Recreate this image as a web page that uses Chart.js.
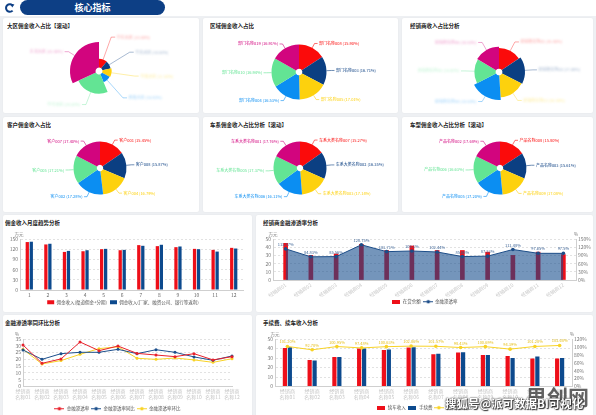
<!DOCTYPE html>
<html>
<head>
<meta charset="utf-8">
<script src="https://cdn.jsdelivr.net/npm/chart.js@4.4.0/dist/chart.umd.min.js"></script>
<style>
html, body { margin: 0; padding: 0; }
body { width: 596px; height: 415px; overflow: hidden; position: relative; background: #eef0f3;
  font-family: "Noto Sans CJK SC", "Noto Sans", sans-serif; }
.top { position: absolute; left: 0; top: 0; width: 596px; height: 16px; background: #fff; }
.pill { position: absolute; left: 20px; top: 0; width: 145px; height: 15px; border-radius: 8px;
  background: #0d3f85; color: #fff; font-size: 9px; font-weight: bold; text-align: center; line-height: 15px; }
.panel { position: absolute; background: #fff; border-radius: 2px; box-shadow: 0 0 2px rgba(0,0,0,0.05); }
.title { position: absolute; top: 4px; font-size: 11px; line-height: 12px; font-weight: bold; color: #222;
  white-space: nowrap; transform: scale(0.5); transform-origin: left top; }
canvas { position: absolute; }
.wm1 { position: absolute; left: 526px; top: 386px; font-size: 21px; line-height: 1; font-weight: bold;
  color: rgba(70,70,70,0.85); white-space: nowrap; }
.wm2 { position: absolute; left: 445px; top: 398px; font-size: 11.5px; line-height: 1; font-weight: bold; color: #fff;
  white-space: nowrap; text-shadow: 0 0 1px #333, 0 0 2px #333, 1px 1px 1px #333; }
</style>
</head>
<body>
<div class="top"></div>
<svg style="position:absolute;left:4px;top:3px" width="11" height="10" viewBox="0 0 11 10">
  <path d="M8.6 2.4 A3.8 3.8 0 1 0 8.6 7.6" fill="none" stroke="#0d3f85" stroke-width="2"/>
  <path d="M6.2 0.6 L10.4 1.6 L8.2 4.6 Z" fill="#0d3f85"/>
</svg>
<div class="pill">核心指标</div>

<div class="panel" style="left:3px;top:18px;width:196px;height:95px"><div class="title" style="left:4px">大区佣金收入占比【滚动】</div></div>
<div class="panel" style="left:203px;top:18px;width:195px;height:95px"><div class="title" style="left:7px">区域佣金收入占比</div></div>
<div class="panel" style="left:402px;top:18px;width:191px;height:95px"><div class="title" style="left:8px">经销商收入占比分析</div></div>
<div class="panel" style="left:3px;top:117px;width:196px;height:95px"><div class="title" style="left:4px">客户佣金收入占比</div></div>
<div class="panel" style="left:203px;top:117px;width:195px;height:95px"><div class="title" style="left:7px">车系佣金收入占比分析【滚动】</div></div>
<div class="panel" style="left:402px;top:117px;width:191px;height:95px"><div class="title" style="left:8px">车型佣金收入占比分析【滚动】</div></div>
<div class="panel" style="left:3px;top:215px;width:249px;height:97px"><div class="title" style="left:2px">佣金收入月度趋势分析</div></div>
<div class="panel" style="left:256px;top:215px;width:337px;height:97px"><div class="title" style="left:7px">经销商金融渗透率分析</div></div>
<div class="panel" style="left:3px;top:315px;width:249px;height:105px"><div class="title" style="left:2px">金融渗透率同环比分析</div></div>
<div class="panel" style="left:256px;top:315px;width:337px;height:105px"><div class="title" style="left:7px">手续费、续车收入分析</div></div>

<canvas id="p1" width="196" height="83" style="left:3px;top:30px"></canvas>
<canvas id="p2" width="195" height="83" style="left:203px;top:30px"></canvas>
<canvas id="p3" width="191" height="83" style="left:402px;top:30px"></canvas>
<canvas id="p4" width="196" height="83" style="left:3px;top:129px"></canvas>
<canvas id="p5" width="195" height="83" style="left:203px;top:129px"></canvas>
<canvas id="p6" width="191" height="83" style="left:402px;top:129px"></canvas>
<canvas id="c1" width="249" height="82" style="left:3px;top:230px"></canvas>
<canvas id="c2" width="337" height="82" style="left:256px;top:230px"></canvas>
<canvas id="c3" width="249" height="85" style="left:3px;top:330px"></canvas>
<canvas id="c4" width="337" height="85" style="left:256px;top:330px"></canvas>

<div class="wm1">思创网</div>
<div class="wm2">搜狐号@派可数据BI可视化</div>

<script>
// ---- data ----
const pieColors = ['#fb0b0b', '#0b3f82', '#fdd10d', '#0b8ef2', '#63e494', '#d2057e'];

const regionNames = ['华东大区', '华北大区', '华南大区', '西南大区', '华中大区', '东北大区'];
const regionShares = [11.0, 10.5, 11.5, 10.8, 24.2, 32.0];
const deptNames = ['部门名称008', '部门名称003', '部门名称005', '部门名称004', '部门名称010', '部门名称019'];
const deptShares = [15.90, 16.71, 17.01, 16.53, 16.94, 16.91];
const dealerShareNames = ['经销商名称01', '经销商名称02', '经销商名称03', '经销商名称04', '经销商名称05', '经销商名称06'];
const dealerShares = [15.5, 17.0, 16.5, 18.5, 16.0, 16.5];
const customerNames = ['客户001', '客户008', '客户004', '客户002', '客户005', '客户007'];
const customerShares = [15.45, 15.87, 16.79, 17.28, 17.21, 17.40];
const seriesNames = ['车系大类名称007', '车系大类名称002', '车系大类名称003', '车系大类名称006', '车系大类名称005', '车系大类名称001'];
const seriesShares = [15.27, 16.35, 17.14, 16.11, 17.37, 17.76];
const modelNames = ['产品名称008', '产品名称003', '产品名称009', '产品名称005', '产品名称006', '产品名称002'];
const modelShares = [15.80, 15.61, 17.08, 17.20, 16.63, 17.68];

const months = ['1', '2', '3', '4', '5', '6', '7', '8', '9', '10', '11', '12'];
const channelIncome = [141, 134, 112, 114, 120, 117, 132, 129, 126, 121, 118, 124];
const rebateIncome = [142, 136, 115, 117, 121, 118, 130, 133, 128, 120, 113, 122];

const dealerLabels = ['经销商01', '经销商02', '经销商03', '经销商04', '经销商05', '经销商06',
  '经销商07', '经销商08', '经销商09', '经销商10', '经销商11', '经销商12'];
const loanAmount = [44.7, 30, 31.7, 43.5, 36, 41.5, 36, 36, 34, 30, 34, 31];
const penetration = [113.87, 84.83, 85.56, 128.75, 103.71, 106.1, 102.44, 85.66, 87.33, 111.48, 97.65, 97.5];

const twoLineLabels = [['经销商', '名称01'], ['经销商', '名称02'], ['经销商', '名称03'], ['经销商', '名称04'],
  ['经销商', '名称05'], ['经销商', '名称06'], ['经销商', '名称07'], ['经销商', '名称08'],
  ['经销商', '名称09'], ['经销商', '名称10'], ['经销商', '名称11'], ['经销商', '名称12']];
const rateNow = [30.6, 17.1, 20.3, 32.8, 26.4, 29.8, 24.4, 23.2, 22.0, 24.2, 19.6, 22.0];
const rateYoY = [26.9, 20.0, 24.2, 25.2, 25.2, 27.4, 24.2, 27.1, 25.2, 21.8, 19.3, 22.5];
const rateMoM = [27.4, 16.6, 19.1, 23.7, 27.9, 29.3, 20.8, 20.0, 21.0, 19.6, 17.8, 20.5];

const renewIncome = [40.6, 28, 31, 40, 38.5, 41, 34, 35.7, 33.2, 32.2, 29.4, 29.4];
const feeIncome = [41.3, 27.3, 31, 40, 39, 41.3, 34.6, 36, 33.2, 30, 31.5, 30];
const feeRatio = [101.20, 92.70, 100.95, 97.48, 100.63, 102.06, 101.57, 98.43, 100.69, 94.39, 101.20, 103.68];

const RED = '#ee0f19';
const BLUE = '#0d4a8e';
const YELLOW = '#f8d327';
const FONT = '"Noto Sans CJK SC", "Noto Sans", sans-serif';

Chart.defaults.font.family = FONT;
Chart.defaults.font.size = 5;
Chart.defaults.color = '#777';

// ---- small plugins ----
function rosePlugin() {
  return {
    id: 'rose',
    afterDatasetsUpdate(chart) {
      const vals = chart.data.datasets[0].data;
      const max = Math.max(...vals);
      chart.getDatasetMeta(0).data.forEach((arc, i) => {
        arc.outerRadius = arc.innerRadius + (arc.outerRadius - arc.innerRadius) * vals[i] / max;
      });
    }
  };
}

function pieLabelPlugin(cfg) {
  return {
    id: 'pieLabels',
    afterDatasetsDraw(chart) {
      const ctx = chart.ctx;
      const arcs = chart.getDatasetMeta(0).data;
      const vals = chart.data.datasets[0].data;
      const names = chart.data.labels;
      const rMax = Math.max(...arcs.map(a => a.outerRadius));
      ctx.save();
      ctx.font = '4px ' + FONT;
      ctx.textBaseline = 'middle';
      ctx.lineWidth = 0.6;
      arcs.forEach((a, i) => {
        const mid = (a.startAngle + a.endAngle) / 2;
        const c = Math.cos(mid), s = Math.sin(mid);
        const dir = c >= 0 ? 1 : -1;
        const r1 = rMax + cfg.len1;
        const x0 = a.x + c * a.outerRadius, y0 = a.y + s * a.outerRadius;
        const x1 = a.x + c * r1, y1 = a.y + s * r1;
        const x2 = x1 + dir * cfg.len2;
        ctx.globalAlpha = cfg.blur ? 0.6 : 1;
        ctx.strokeStyle = pieColors[i];
        ctx.beginPath(); ctx.moveTo(x0, y0); ctx.lineTo(x1, y1); ctx.lineTo(x2, y1); ctx.stroke();
        ctx.save();
        if (cfg.blur) { ctx.filter = 'blur(0.9px)'; ctx.globalAlpha = 0.4; }
        ctx.fillStyle = pieColors[i];
        ctx.textAlign = dir > 0 ? 'left' : 'right';
        ctx.fillText(names[i] + ' (' + vals[i].toFixed(2) + '%)', x2 + dir * 1.5, y1);
        ctx.restore();
      });
      ctx.restore();
    }
  };
}

function unitPlugin(map) {
  return {
    id: 'units',
    afterDraw(chart) {
      const ctx = chart.ctx;
      ctx.save();
      ctx.font = '4.5px ' + FONT;
      ctx.fillStyle = '#777';
      ctx.textAlign = 'center';
      ctx.textBaseline = 'bottom';
      Object.keys(map).forEach(id => {
        const s = chart.scales[id];
        const x = (s.position === 'right' ? s.left : s.right) + map[id][1];
        ctx.fillText(map[id][0], x, s.top - 2);
      });
      ctx.restore();
    }
  };
}

function valueLabelPlugin(dsIndex, fmt, color) {
  return {
    id: 'valueLabels',
    afterDatasetsDraw(chart) {
      const ctx = chart.ctx;
      const data = chart.data.datasets[dsIndex].data;
      ctx.save();
      ctx.font = '4px ' + FONT;
      ctx.fillStyle = color;
      ctx.textAlign = 'center';
      ctx.textBaseline = 'bottom';
      chart.getDatasetMeta(dsIndex).data.forEach((pt, i) => ctx.fillText(fmt(data[i]), pt.x, pt.y - 2.5));
      ctx.restore();
    }
  };
}

function lineIcon(color) {
  const c = document.createElement('canvas');
  c.width = 10; c.height = 5;
  const g = c.getContext('2d');
  g.strokeStyle = color; g.lineWidth = 1;
  g.beginPath(); g.moveTo(0, 2.5); g.lineTo(10, 2.5); g.stroke();
  g.fillStyle = color;
  g.beginPath(); g.arc(5, 2.5, 1.8, 0, Math.PI * 2); g.fill();
  return c;
}

function rectIcon(color) {
  const c = document.createElement('canvas');
  c.width = 8; c.height = 4;
  const g = c.getContext('2d');
  g.fillStyle = color; g.fillRect(0, 0, 8, 4);
  return c;
}

function iconLabels(chart) {
  const items = Chart.defaults.plugins.legend.labels.generateLabels(chart);
  items.forEach(it => { it.pointStyle = chart.data.datasets[it.datasetIndex].legendIcon; });
  return items;
}
const byIndex = (a, b) => a.datasetIndex - b.datasetIndex;

// ---- pies ----
function makePie(id, names, values, cfg) {
  const plugins = [pieLabelPlugin(cfg)];
  if (cfg.rose) plugins.unshift(rosePlugin());
  new Chart(document.getElementById(id), {
    type: 'doughnut',
    data: { labels: names, datasets: [{ data: values, backgroundColor: pieColors, borderWidth: 0 }] },
    options: {
      responsive: false, animation: false,
      radius: cfg.radius, cutout: '12%',
      layout: { padding: cfg.padding },
      plugins: { legend: { display: false }, tooltip: { enabled: false } }
    },
    plugins
  });
}

makePie('p1', regionNames, regionShares, { rose: true, blur: true, radius: 29, len1: 7, len2: 4, padding: { right: 4, bottom: 1 } });
makePie('p2', deptNames, deptShares, { radius: 27.5, len1: 5, len2: 3, padding: { right: 3, top: 1 } });
makePie('p3', dealerShareNames, dealerShares, { rose: true, blur: true, radius: 28, len1: 6, len2: 4, padding: { left: 3, top: 1 } });
makePie('p4', customerNames, customerShares, { radius: 26.5, len1: 5, len2: 3, padding: { right: 2, bottom: 5 } });
makePie('p5', seriesNames, seriesShares, { radius: 26.5, len1: 5, len2: 3, padding: { right: 1, bottom: 5 } });
makePie('p6', modelNames, modelShares, { radius: 26.5, len1: 5, len2: 3, padding: { left: 5, bottom: 5 } });

// ---- axes helpers ----
function valueAxis(extra, width, gridOn) {
  return Object.assign({
    min: 0,
    grid: { display: gridOn, color: '#e2e2e2', drawTicks: false },
    border: { color: '#cfcfcf', dash: [2, 2] },
    afterFit: s => { s.width = width; }
  }, extra);
}

// ---- 佣金收入月度趋势分析 ----
new Chart(document.getElementById('c1'), {
  type: 'bar',
  data: {
    labels: months,
    datasets: [
      { label: '佣金收入(渠道佣金+分期)', data: channelIncome, backgroundColor: RED, categoryPercentage: 0.43, barPercentage: 0.82 },
      { label: '佣金收入(厂家、融资公司、银行等返利)', data: rebateIncome, backgroundColor: BLUE, categoryPercentage: 0.43, barPercentage: 0.82 }
    ]
  },
  options: {
    responsive: false, animation: false,
    layout: { padding: { top: 9, right: 9, bottom: 3, left: 0 } },
    scales: {
      x: { grid: { display: false, drawTicks: false }, border: { color: '#cfcfcf' },
           ticks: { padding: 2, color: '#666' }, afterFit: s => { s.height = 7; } },
      y: valueAxis({ max: 150, ticks: { stepSize: 30, padding: 2, autoSkip: false } }, 17, true)
    },
    plugins: {
      tooltip: { enabled: false },
      legend: { display: true, position: 'bottom', maxHeight: 12,
        labels: { boxWidth: 7, boxHeight: 4, padding: 3, color: '#555', font: { size: 4.5 } } }
    }
  },
  plugins: [unitPlugin({ y: ['万元', -1] })]
});

// ---- 经销商金融渗透率分析 ----
new Chart(document.getElementById('c2'), {
  type: 'bar',
  data: {
    labels: dealerLabels,
    datasets: [
      { type: 'bar', label: '在贷余额', data: loanAmount, yAxisID: 'y', order: 2,
        backgroundColor: RED, barThickness: 4, legendIcon: rectIcon(RED) },
      { type: 'line', label: '金融渗透率', data: penetration, yAxisID: 'y1', order: 1,
        borderColor: '#1c4d88', borderWidth: 1, backgroundColor: 'rgba(16,72,138,0.58)', fill: 'origin',
        pointRadius: 1.8, pointBackgroundColor: '#1c4d88', pointBorderWidth: 0, tension: 0,
        legendIcon: lineIcon('#1c4d88') }
    ]
  },
  options: {
    responsive: false, animation: false,
    layout: { padding: { top: 9, right: 0, bottom: 3.5, left: 0 } },
    scales: {
      x: { grid: { display: false, drawTicks: false }, border: { color: '#cfcfcf' },
           ticks: { padding: 2, color: '#c6c6c6', autoSkip: false, minRotation: 35, maxRotation: 35 },
           afterFit: s => { s.height = 16.5; } },
      y: valueAxis({ max: 50, ticks: { stepSize: 10, padding: 2, autoSkip: false } }, 17, true),
      y1: valueAxis({ position: 'right', max: 150,
        ticks: { stepSize: 30, padding: 2, autoSkip: false, callback: v => v + '%' } }, 17, false)
    },
    plugins: {
      tooltip: { enabled: false },
      legend: { display: true, position: 'bottom', maxHeight: 12,
        labels: { usePointStyle: true, pointStyleWidth: 9, padding: 3, color: '#555', font: { size: 4.5 },
                  generateLabels: iconLabels, sort: byIndex } }
    }
  },
  plugins: [unitPlugin({ y: ['万元', 0], y1: ['%', 0] }), valueLabelPlugin(1, v => v + '%', '#3d6496')]
});

// ---- 金融渗透率同环比分析 ----
function rateLine(label, data, color) {
  return { label, data, borderColor: color, backgroundColor: color, borderWidth: 1, pointRadius: 1.5,
    pointBorderWidth: 0, pointBackgroundColor: color, tension: 0, legendIcon: lineIcon(color) };
}
new Chart(document.getElementById('c3'), {
  type: 'line',
  data: {
    labels: twoLineLabels,
    datasets: [
      rateLine('金融渗透率', rateNow, '#e8212b'),
      rateLine('金融渗透率同比', rateYoY, '#1c4f8c'),
      rateLine('金融渗透率环比', rateMoM, YELLOW)
    ]
  },
  options: {
    responsive: false, animation: false,
    layout: { padding: { top: 9, right: 20, bottom: 0.5, left: 0 } },
    scales: {
      x: { offset: false, grid: { display: false, drawTicks: false }, border: { color: '#cfcfcf' },
           ticks: { padding: 2, color: '#c6c6c6', autoSkip: false, maxRotation: 0 },
           afterFit: s => { s.height = 18; } },
      y: valueAxis({ max: 35, ticks: { stepSize: 5, padding: 2, autoSkip: false } }, 20, true)
    },
    plugins: {
      tooltip: { enabled: false },
      legend: { display: true, position: 'bottom', maxHeight: 10,
        labels: { usePointStyle: true, pointStyleWidth: 10, padding: 2, color: '#555', font: { size: 4.5 },
                  generateLabels: iconLabels, sort: byIndex } }
    }
  },
  plugins: [unitPlugin({ y: ['%', -6] })]
});

// ---- 手续费、续车收入分析 ----
new Chart(document.getElementById('c4'), {
  type: 'bar',
  data: {
    labels: twoLineLabels,
    datasets: [
      { type: 'bar', label: '续车收入', data: renewIncome, yAxisID: 'y', order: 2, backgroundColor: RED,
        categoryPercentage: 0.4, barPercentage: 0.85, legendIcon: rectIcon(RED) },
      { type: 'bar', label: '手续费', data: feeIncome, yAxisID: 'y', order: 2, backgroundColor: BLUE,
        categoryPercentage: 0.4, barPercentage: 0.85, legendIcon: rectIcon(BLUE) },
      { type: 'line', label: '续车收入占比', data: feeRatio, yAxisID: 'y1', order: 1,
        borderColor: YELLOW, borderWidth: 1, pointRadius: 1.8, pointBorderWidth: 0,
        pointBackgroundColor: YELLOW, tension: 0, legendIcon: lineIcon(YELLOW) }
    ]
  },
  options: {
    responsive: false, animation: false,
    layout: { padding: { top: 9, right: 0, bottom: 1.5, left: 0 } },
    scales: {
      x: { grid: { display: false, drawTicks: false }, border: { color: '#cfcfcf' },
           ticks: { padding: 2, color: '#c6c6c6', autoSkip: false, maxRotation: 0 },
           afterFit: s => { s.height = 17; } },
      y: valueAxis({ max: 50, ticks: { stepSize: 10, padding: 2, autoSkip: false } }, 19, true),
      y1: valueAxis({ position: 'right', max: 120,
        ticks: { stepSize: 20, padding: 2, autoSkip: false, callback: v => v + '%' } }, 21, false)
    },
    plugins: {
      tooltip: { enabled: false },
      legend: { display: true, position: 'bottom', maxHeight: 10,
        labels: { usePointStyle: true, pointStyleWidth: 9, padding: 2, color: '#555', font: { size: 4.5 },
                  generateLabels: iconLabels, sort: byIndex } }
    }
  },
  plugins: [unitPlugin({ y: ['万元', 0], y1: ['%', 0] }), valueLabelPlugin(2, v => v.toFixed(2) + '%', '#e6bf1a')]
});
</script>
</body>
</html>
